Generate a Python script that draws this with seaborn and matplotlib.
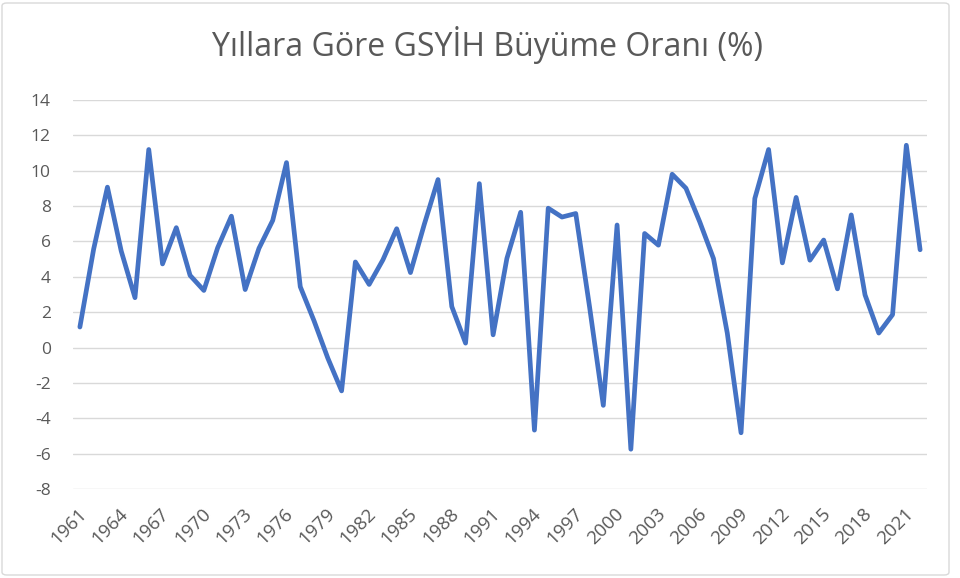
import matplotlib
matplotlib.use("Agg")
import matplotlib.pyplot as plt
import matplotlib.transforms as mtransforms
import seaborn as sns
import pandas as pd
from matplotlib.patches import FancyBboxPatch

years = list(range(1961, 2023))
growth = [1.16, 5.57, 9.07, 5.46, 2.82, 11.2, 4.73, 6.78, 4.08, 3.23,
          5.64, 7.43, 3.28, 5.61, 7.19, 10.46, 3.44, 1.51, -0.6, -2.45,
          4.84, 3.57, 4.96, 6.72, 4.24, 6.96, 9.5, 2.32, 0.25, 9.27,
          0.72, 5.04, 7.65, -4.67, 7.88, 7.38, 7.58, 2.31, -3.27, 6.93,
          -5.75, 6.45, 5.79, 9.8, 9.01, 7.11, 5.03, 0.82, -4.82, 8.43,
          11.2, 4.79, 8.49, 4.94, 6.08, 3.32, 7.5, 2.98, 0.82, 1.86,
          11.44, 5.53]
title = "Yıllara Göre GSYİH Büyüme Oranı (%)"
yticks = list(range(-8, 15, 2))

sns.set_theme(style="white")
plt.rcParams['font.family'] = ['Open Sans', 'DejaVu Sans']

df = pd.DataFrame({"idx": range(len(years)), "year": years, "growth": growth})

fig = plt.figure(figsize=(9.6, 5.78), dpi=100)
ax = fig.add_axes([73/960, 1-489/578, (927-73)/960, (489-100)/578])

sns.lineplot(data=df, x="idx", y="growth", ax=ax, color="#4472C4",
             linewidth=3.4, solid_joinstyle="round", solid_capstyle="round", zorder=3)

ax.set_xlim(-0.5, len(years) - 0.5)
ax.set_ylim(-8, 14)
ax.set_yticks(yticks)
ax.set_yticklabels([str(t) for t in yticks])
ax.yaxis.grid(True, color="#D9D9D9", linewidth=1.0)
ax.xaxis.grid(False)
for s in ax.spines.values():
    s.set_visible(False)

tick_idx = list(range(0, len(years), 3))
ax.set_xticks(tick_idx)
ax.set_xticklabels([str(years[i]) for i in tick_idx], rotation=45, ha="right",
                   va="center", rotation_mode="anchor")
ax.tick_params(axis="x", length=0, pad=16, labelsize=13.5, labelcolor="#595959")
ax.tick_params(axis="y", length=0, pad=16, labelsize=12.5, labelcolor="#595959")
shift = mtransforms.ScaledTranslation(4/100, 0, fig.dpi_scale_trans)
for lab in ax.get_xticklabels():
    lab.set_transform(lab.get_transform() + shift)
ax.set_xlabel("")
ax.set_ylabel("")

fig.text(488/960, 1-56/578, title, ha="center", va="baseline", fontsize=23,
         color="#595959", fontweight="normal")

border = FancyBboxPatch((2/960, 3/578), 947/960, 572/578,
                        boxstyle="round,pad=0,rounding_size=0.005",
                        transform=fig.transFigure, fill=False,
                        edgecolor="#D9D9D9", linewidth=1.0)
fig.patches.append(border)

fig.savefig("out.png", dpi=100)
